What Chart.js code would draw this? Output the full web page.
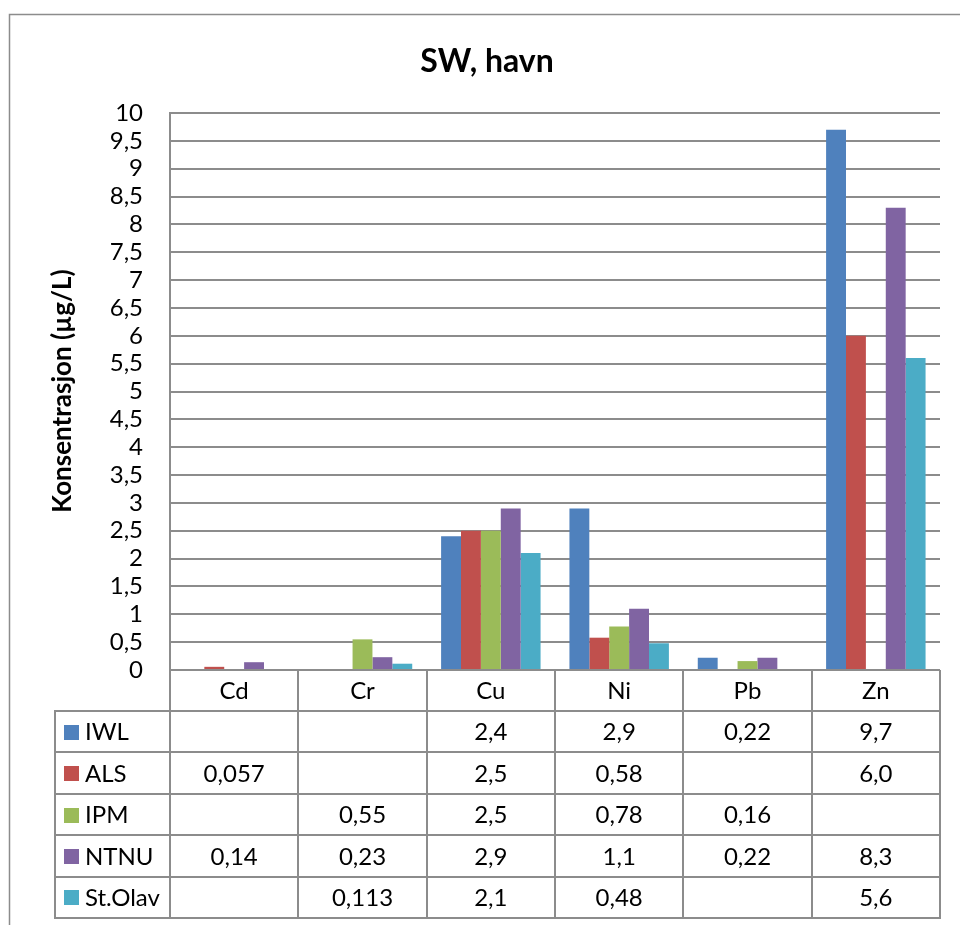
<!DOCTYPE html>
<html>
<head>
<meta charset="utf-8">
<title>SW, havn</title>
<script src="https://cdn.jsdelivr.net/npm/chart.js@4/dist/chart.umd.min.js"></script>
<style>
  html, body { margin: 0; padding: 0; background: #fff; }
  #wrap { position: relative; width: 960px; height: 925px; }
</style>
</head>
<body>
<div id="wrap"><canvas id="chart"></canvas></div>
<script>
// Metals measured in harbour sea water, per laboratory (µg/L)
const categories = ['Cd', 'Cr', 'Cu', 'Ni', 'Pb', 'Zn'];
const seriesNames = ['IWL', 'ALS', 'IPM', 'NTNU', 'St.Olav'];
const iwl    = [null, null, 2.4, 2.9, 0.22, 9.7];
const als    = [0.057, null, 2.5, 0.58, null, 6.0];
const ipm    = [null, 0.55, 2.5, 0.78, 0.16, null];
const ntnu   = [0.14, 0.23, 2.9, 1.1, 0.22, 8.3];
const stOlav = [null, 0.113, 2.1, 0.48, null, 5.6];
const seriesColors = ['#4F81BD', '#C0504D', '#9BBB59', '#8064A2', '#4BACC6'];
const yMin = 0, yMax = 10, yStep = 0.5;
const titleText = 'SW, havn';
const yTitleText = 'Konsentrasjon (µg/L)';

const seriesValues = [iwl, als, ipm, ntnu, stOlav];
const FONT = 'Lato, "Liberation Sans", sans-serif';
const LINE = '#8c8c8c';
const TEXT_SIZE = 24;

// Norwegian decimal comma; two significant digits unless the value carries more
function fmt(v) {
  if (v === null || v === undefined) return '';
  const p2 = v.toPrecision(2);
  const s = Number(p2) === v ? p2 : String(v);
  return s.replace('.', ',');
}

// Frame, title, axis title and the data table under the plot
const tablePlugin = {
  id: 'dataTable',
  afterDraw(chart) {
    const ctx = chart.ctx;
    const area = chart.chartArea;
    const xs = chart.scales.x;
    const n = categories.length;
    const cw = (xs.right - xs.left) / n;
    const headTop = area.bottom;
    const rowsTop = area.bottom + 41;
    const rowH = 41.4;
    const tableBottom = rowsTop + rowH * seriesNames.length;
    const legendLeft = 55;

    ctx.save();
    // outer chart frame
    ctx.strokeStyle = LINE;
    ctx.lineWidth = 1.5;
    ctx.strokeRect(9.5, 14.5, 1100, 1100);

    // title
    ctx.fillStyle = '#000';
    ctx.font = 'bold 32px ' + FONT;
    ctx.textAlign = 'center';
    ctx.textBaseline = 'middle';
    ctx.fillText(titleText, 487, 62);

    // y axis title
    ctx.save();
    ctx.translate(63, 391);
    ctx.rotate(-Math.PI / 2);
    ctx.font = 'bold 26px ' + FONT;
    ctx.fillText(yTitleText, 0, 0);
    ctx.restore();

    // table grid
    ctx.strokeStyle = LINE;
    ctx.lineWidth = 2;
    ctx.beginPath();
    for (let i = 0; i <= n; i++) {
      const x = Math.round(xs.left + i * cw);
      ctx.moveTo(x, headTop);
      ctx.lineTo(x, tableBottom);
    }
    ctx.moveTo(legendLeft, rowsTop);
    ctx.lineTo(legendLeft, tableBottom);
    for (let r = 0; r <= seriesNames.length; r++) {
      const y = Math.round(rowsTop + r * rowH);
      ctx.moveTo(legendLeft - 1, y);
      ctx.lineTo(xs.right + 1, y);
    }
    ctx.stroke();

    // category header
    ctx.fillStyle = '#000';
    ctx.font = TEXT_SIZE + 'px ' + FONT;
    ctx.textAlign = 'center';
    categories.forEach((c, i) => {
      ctx.fillText(c, xs.getPixelForValue(i), (headTop + rowsTop) / 2 + 1);
    });

    // series rows
    seriesNames.forEach((name, r) => {
      const cy = rowsTop + r * rowH + rowH / 2 + 1;
      ctx.fillStyle = seriesColors[r];
      ctx.fillRect(64, Math.round(cy - 8), 15, 15);
      ctx.fillStyle = '#000';
      ctx.textAlign = 'left';
      ctx.fillText(name, 85, cy);
      ctx.textAlign = 'center';
      seriesValues[r].forEach((v, i) => {
        ctx.fillText(fmt(v), xs.getPixelForValue(i), cy);
      });
    });
    ctx.restore();
  }
};

new Chart(document.getElementById('chart'), {
  type: 'bar',
  data: {
    labels: categories,
    datasets: seriesNames.map((name, i) => ({
      label: name,
      data: seriesValues[i],
      backgroundColor: seriesColors[i],
      borderWidth: 0,
      categoryPercentage: 0.775,
      barPercentage: 1
    }))
  },
  options: {
    responsive: true,
    maintainAspectRatio: false,
    animation: false,
    layout: { padding: { top: 113, right: 20, bottom: 0, left: 0 } },
    plugins: {
      legend: { display: false },
      title: { display: false },
      tooltip: { enabled: false }
    },
    scales: {
      x: {
        grid: { display: false },
        border: { display: false },
        ticks: { display: false },
        afterFit(scale) { scale.height = 255; }
      },
      y: {
        min: yMin,
        max: yMax,
        grid: { color: LINE, lineWidth: 2, drawTicks: false },
        border: { display: true, color: LINE, width: 2 },
        ticks: {
          stepSize: yStep,
          autoSkip: false,
          padding: 27,
          color: '#000',
          font: { family: FONT, size: TEXT_SIZE },
          callback: v => String(v).replace('.', ',')
        },
        afterFit(scale) { scale.width = 170; }
      }
    }
  },
  plugins: [tablePlugin]
});
</script>
</body>
</html>
